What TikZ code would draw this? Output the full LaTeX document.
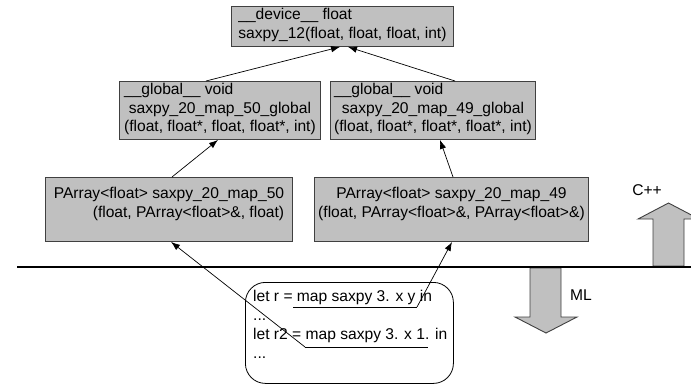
\documentclass[tikz,border=0pt]{standalone}
\usepackage{fontspec}
\setmainfont{Liberation Sans}
\usetikzlibrary{arrows.meta,calc}
\definecolor{boxfill}{HTML}{C0C0C0}
\definecolor{boxline}{HTML}{404040}
\begin{document}
\begin{tikzpicture}[x=1bp,y=-1bp,
  box/.style={draw=boxline,fill=boxfill,line width=0.9bp,inner sep=0pt,anchor=north west},
  txt/.style={font=\fontsize{15.6bp}{18.5bp}\selectfont,inner sep=0pt},
  conn/.style={line width=0.7bp,-{Latex[length=9bp,width=6.5bp]}},
  bigarrow/.style={draw=boxline,fill=boxfill,line width=0.9bp,line join=miter},
  codebox/.style={draw=black,line width=0.8bp,rounded corners=20bp,anchor=north west,inner sep=0pt},
]
\useasboundingbox (0,0) rectangle (691,385);
\clip (0,0) rectangle (691,385);

% boxes
\node[box,minimum width=222bp,minimum height=40bp] (top) at (231,6) {};
\node[box,minimum width=201bp,minimum height=58bp] (ml) at (119,81) {};
\node[box,minimum width=205bp,minimum height=58bp] (mr) at (330,81) {};
\node[box,minimum width=247bp,minimum height=64bp] (bl) at (45,177) {};
\node[box,minimum width=274bp,minimum height=64bp] (br) at (314,177) {};

% texts
\node[txt] (toptxt) at ($(top.center)+(0,-1)$) {\begin{tabular}{@{}l@{}}\_\_device\_\_ float\\ saxpy\_12(float, float, float, int)\end{tabular}};
\node[txt] (mltxt) at ($(ml.center)+(0,-1)$) {\begin{tabular}{@{}c@{}}\_\_global\_\_ void\hfill\null\\ saxpy\_20\_map\_50\_global\\ (float, float*, float, float*, int)\end{tabular}};
\node[txt] (mrtxt) at ($(mr.center)+(0,-1)$) {\begin{tabular}{@{}c@{}}\_\_global\_\_ void\hfill\null\\ saxpy\_20\_map\_49\_global\\ (float, float*, float*, float*, int)\end{tabular}};
\node[txt] (bltxt) at ($(bl.center)+(0,-5)$) {\begin{tabular}{@{}r@{}}PArray<float> saxpy\_20\_map\_50\\ (float, PArray<float>\&, float)\end{tabular}};
\node[txt] (brtxt) at ($(br.center)+(0,-5)$) {\begin{tabular}{@{}c@{}}PArray<float> saxpy\_20\_map\_49\\ (float, PArray<float>\&, PArray<float>\&)\end{tabular}};

% big arrows
\draw[bigarrow] (530,268) -- (530,317) -- (515,317) -- (546,333) -- (577,317) -- (561,317) -- (561,268) -- cycle;
\draw[bigarrow] (653,266) -- (653,219) -- (638,219) -- (668.5,203) -- (699,219) -- (684,219) -- (684,266) -- cycle;
% separator line
\draw[line width=2.2bp] (17,267) -- (691,267);
\node[txt] (ml-label) at (581,295) {ML};
\node[txt] (cpp-label) at (647,190) {C++};

% code box
\node[codebox,minimum width=208bp,minimum height=101bp] (code) at (245,282) {};
\node[txt,anchor=base west,font=\fontsize{15.6bp}{19bp}\selectfont] (codetxt) at (253,301)
  {\begin{tabular}[t]{@{}l@{}}let r = map saxpy 3. x y in\\ ...\\ let r2 = map saxpy 3. x 1. in\\ ...\end{tabular}};
\coordinate (u1a) at (293,307);
\coordinate (u1b) at (417,307);
\coordinate (u2a) at (305,347);
\coordinate (u2b) at (428,347);
\draw[line width=0.7bp] (u1a) -- (u1b);
\draw[line width=0.7bp] (u2a) -- (u2b);

% connectors
\draw[conn] ($(bl.north west)+(127,0)$) -- ($(ml.south west)+(99,0)$);
\draw[conn] ($(br.north west)+(139,0)$) -- ($(mr.south west)+(110,0)$);
\draw[conn] ($(ml.north west)+(87,0)$) -- ($(top.south west)+(109,0)$);
\draw[conn] ($(mr.north west)+(125,0)$) -- ($(top.south west)+(117,0)$);
\draw[conn] (u1b) -- ($(br.south west)+(138,0)$);
\draw[conn] (u2a) -- ($(bl.south west)+(126,0)$);
\end{tikzpicture}
\end{document}
